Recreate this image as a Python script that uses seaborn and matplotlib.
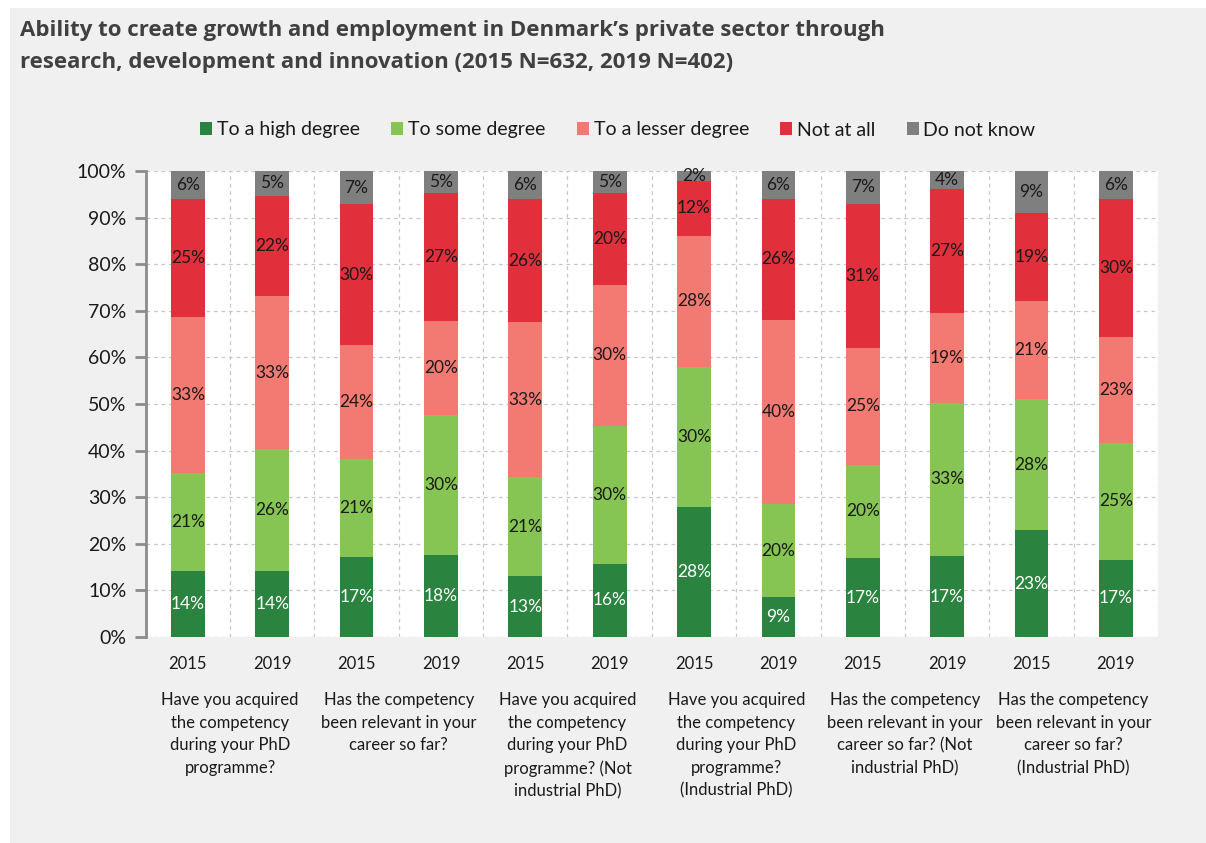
import matplotlib
matplotlib.use("Agg")
import matplotlib.pyplot as plt
from matplotlib.patches import Patch
from matplotlib.ticker import FixedLocator, FuncFormatter
import numpy as np
import pandas as pd
import seaborn as sns

# ---------------- data ----------------
years = ["2015", "2019", "2015", "2019", "2015", "2019",
         "2015", "2019", "2015", "2019", "2015", "2019"]
questions = [
    "Have you acquired\nthe competency\nduring your PhD\nprogramme?",
    "Has the competency\nbeen relevant in your\ncareer so far?",
    "Have you acquired\nthe competency\nduring your PhD\nprogramme? (Not\nindustrial PhD)",
    "Have you acquired\nthe competency\nduring your PhD\nprogramme?\n(Industrial PhD)",
    "Has the competency\nbeen relevant in your\ncareer so far? (Not\nindustrial PhD)",
    "Has the competency\nbeen relevant in your\ncareer so far?\n(Industrial PhD)",
]
series_names = ["To a high degree", "To some degree", "To a lesser degree",
                "Not at all", "Do not know"]
high_degree = [14.1, 14.1, 17.1, 17.6, 13.0, 15.7, 28.0, 8.6, 16.9, 17.3, 22.9, 16.6]
some_degree = [21.2, 26.3, 21.2, 30.1, 21.3, 29.6, 29.9, 19.9, 20.1, 33.0, 28.2, 25.0]
lesser_degree = [33.4, 32.7, 24.3, 20.2, 33.3, 30.3, 28.2, 39.6, 25.0, 19.2, 21.0, 22.8]
not_at_all = [25.2, 21.6, 30.3, 27.3, 26.3, 19.6, 11.8, 25.9, 31.0, 26.7, 18.9, 29.6]
do_not_know = [6.1, 5.3, 7.1, 4.8, 6.0, 4.8, 2.1, 6.0, 7.0, 3.8, 9.0, 6.0]

colors = ["#2A843F", "#86C454", "#F27A72", "#E12F3C", "#7F7F80"]
label_colors = ["white", "#1a1a1a", "#1a1a1a", "#1a1a1a", "#1a1a1a"]

title = ("Ability to create growth and employment in Denmark\u2019s private sector through\n"
         "research, development and innovation (2015 N=632, 2019 N=402)")

# ---------------- style ----------------
sns.set_theme(style="white")
FONT = ["Lato", "DejaVu Sans"]
plt.rcParams["font.family"] = FONT

BG = "#F0F0F0"
fig = plt.figure(figsize=(12.06, 8.43), dpi=100, facecolor="white")
# light gray panel
fig.patches.append(plt.Rectangle((10 / 1206, 0), 1 - 10 / 1206, 1 - 8 / 843,
                                 transform=fig.transFigure, facecolor=BG,
                                 edgecolor="none", zorder=-10))

ax = fig.add_axes([145.7 / 1206, 1 - 637 / 843, (1158 - 145.7) / 1206, (637 - 171) / 843])
ax.set_facecolor("white")

series = [high_degree, some_degree, lesser_degree, not_at_all, do_not_know]
values = np.array(series)
cum = np.cumsum(values, axis=0)
idx = list(range(len(years)))

# draw cumulative bars from the top down so each segment shows
for k in range(len(series) - 1, -1, -1):
    df = pd.DataFrame({"x": idx, "y": cum[k]})
    sns.barplot(data=df, x="x", y="y", color=colors[k], saturation=1,
                width=0.4, ax=ax, linewidth=0, zorder=3)

# segment labels
for k in range(len(series)):
    bottoms = cum[k] - values[k]
    for i in idx:
        v = values[k][i]
        ax.text(i, bottoms[i] + v / 2, f"{round(v):.0f}%", ha="center", va="center",
                fontsize=12.5, color=label_colors[k], zorder=5)

ax.set_xlim(-0.5, len(years) - 0.5)
ax.set_ylim(0, 100)
ax.set_xlabel("")
ax.set_ylabel("")

ax.yaxis.set_major_locator(FixedLocator(np.arange(0, 101, 10)))
ax.yaxis.set_major_formatter(FuncFormatter(lambda v, p: f"{v:.0f}%"))
ax.tick_params(axis="y", which="major", length=8, width=2, color="#8C8C8C",
               labelsize=14, labelcolor="#1a1a1a", pad=6, left=True)

ax.set_xticks(idx)
ax.set_xticklabels(years)
ax.tick_params(axis="x", which="major", length=0, labelsize=12,
               labelcolor="#1a1a1a", pad=14)
ax.set_xticks(np.arange(0.5, len(years) - 0.5 + 0.01, 1.0), minor=True)
ax.tick_params(axis="x", which="minor", length=0)

ax.grid(False)
ax.grid(axis="y", which="major", color="#C8C8C8", linestyle=(0, (3, 3)), linewidth=0.9, zorder=0)
ax.grid(axis="x", which="minor", color="#C8C8C8", linestyle=(0, (3, 3)), linewidth=0.9, zorder=0)
ax.set_axisbelow(True)

for s in ["top", "right", "bottom"]:
    ax.spines[s].set_visible(False)
ax.spines["left"].set_color("#8C8C8C")
ax.spines["left"].set_linewidth(2)

# group (question) labels
trans = matplotlib.transforms.blended_transform_factory(ax.transData, ax.transAxes)
for g, q in enumerate(questions):
    ax.text(2 * g + 0.5, -0.119, q, transform=trans, ha="center", va="top",
            fontsize=12, color="#1a1a1a", linespacing=1.5)

# title
fig.text(20 / 1206, 1 - 20 / 843, title, ha="left", va="top", fontsize=16,
         fontweight="bold", color="#404040", linespacing=1.7,
         family=["Open Sans", "DejaVu Sans"])

# legend
handles = [Patch(facecolor=c, edgecolor="none") for c in colors]
fig.legend(handles, series_names, loc="center", bbox_to_anchor=(0.5124, 1 - 130 / 843),
           ncol=5, frameon=False, fontsize=14, handlelength=0.62, handleheight=0.62,
           handletextpad=0.25, columnspacing=1.6, labelcolor="#1a1a1a")

fig.savefig("out.png", dpi=100, facecolor="white")
